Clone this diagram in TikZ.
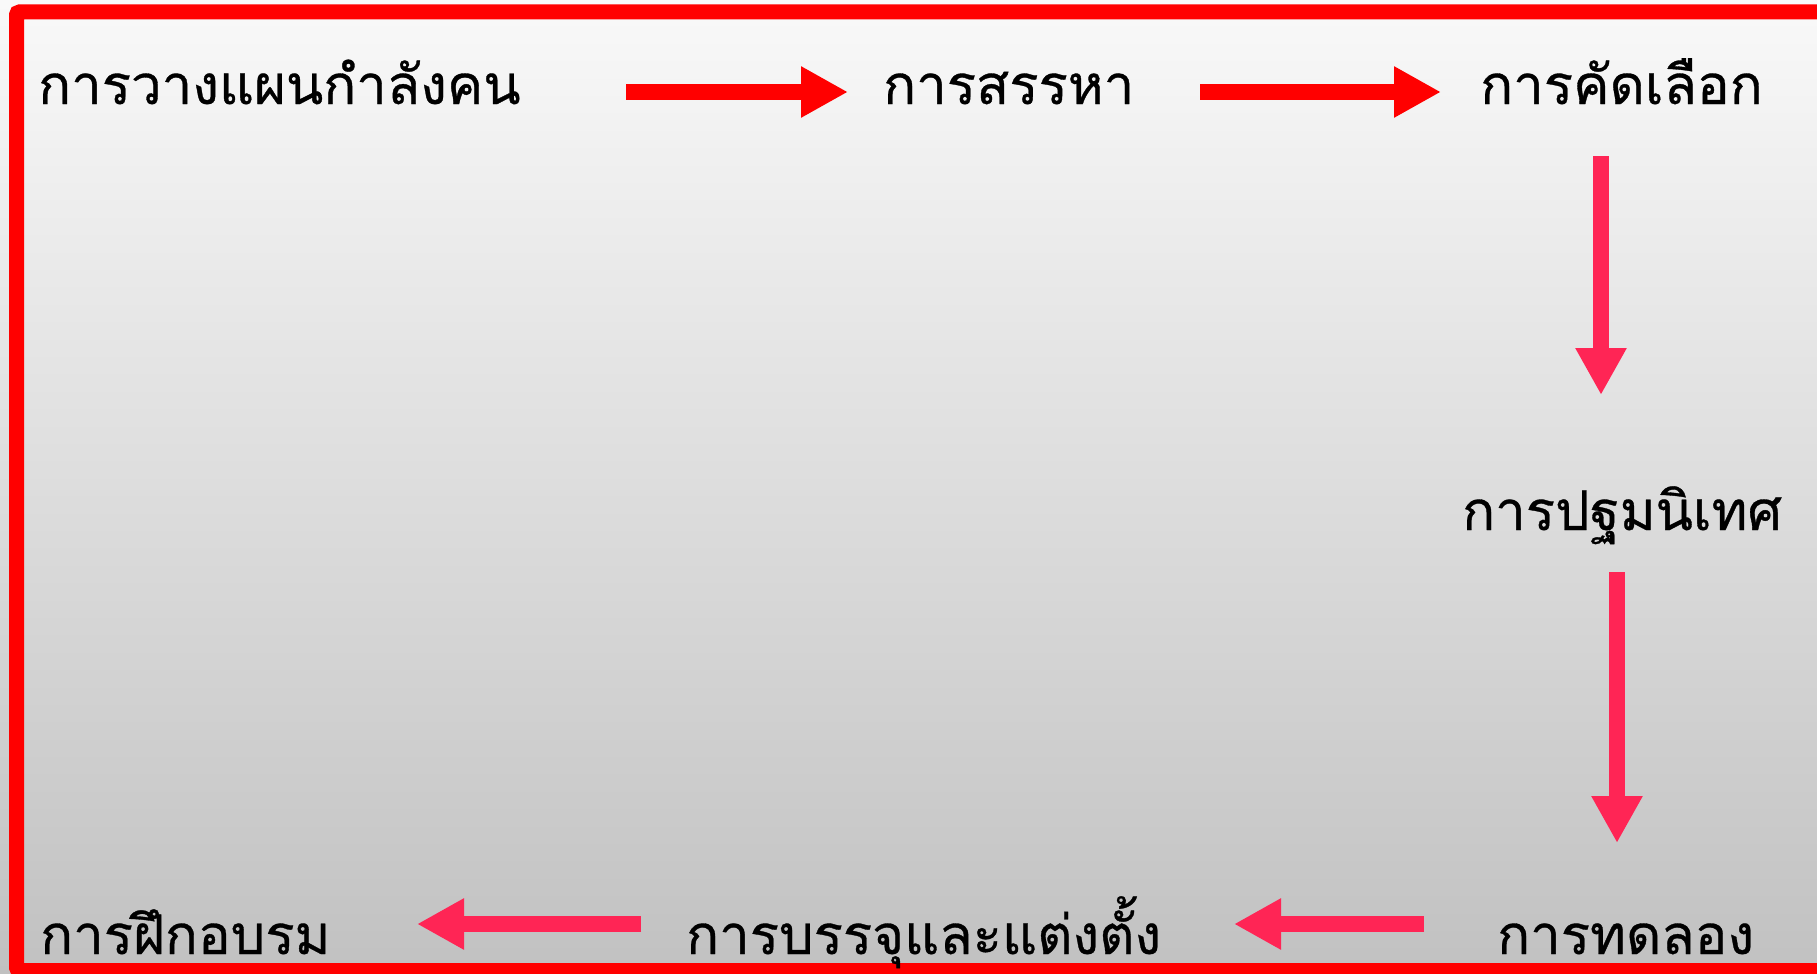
\documentclass[tikz,border=0pt]{standalone}
\usepackage{fontspec}
\newfontfamily\thaifont[Script=Thai,FakeBold=0.6]{Loma}
\usetikzlibrary{arrows.meta}
\definecolor{framered}{RGB}{255,0,0}
\definecolor{toparrow}{RGB}{255,0,0}
\definecolor{pinkarrow}{RGB}{255,37,85}
\tikzset{
  lbl/.style={inner sep=0pt, anchor=base west, font=\thaifont\fontsize{54.5}{60}\selectfont, text=black},
  blockarrow/.style={line width=16pt, -{Triangle[width=48pt,length=47pt]}},
  redarrow/.style={blockarrow, draw=toparrow},
  pinkblock/.style={blockarrow, draw=pinkarrow},
}
\begin{document}
\begin{tikzpicture}[x=1pt,y=-1pt]
\useasboundingbox (0,0) rectangle (1817,974);
\shade[top color={rgb,255:red,249;green,249;blue,249}, middle color={rgb,255:red,230;green,230;blue,230}, bottom color={rgb,255:red,193;green,193;blue,193}] (0,0) rectangle (1817,974);
\begin{scope}
\clip (0,0) rectangle (1817,974);
\draw[framered, line width=15pt, rounded corners=3pt] (16.5,12) rectangle (1840,970.5);
\end{scope}

\node[lbl] (plan) at (38,104) {การวางแผนกำลังคน};
\node[lbl] (recruit) at (883,104) {การสรรหา};
\node[lbl] (select) at (1480,104) {การคัดเลือก};
\node[lbl] (orient) at (1462,530) {การปฐมนิเทศ};
\node[lbl] (trial) at (1497,954) {การทดลอง};
\node[lbl] (appoint) at (686,954) {การบรรจุและแต่งตั้ง};
\node[lbl] (train) at (40,954) {การฝึกอบรม};

\coordinate (a1s) at (626,92);
\coordinate (a1e) at (848,92);
\coordinate (a2s) at (1200,92);
\coordinate (a2e) at (1441,92);
\coordinate (a3s) at (1601,156);
\coordinate (a3e) at (1601,395);
\coordinate (a4s) at (1617,572);
\coordinate (a4e) at (1617,843);
\coordinate (a5s) at (1424,924);
\coordinate (a5e) at (1234,924);
\coordinate (a6s) at (641,924);
\coordinate (a6e) at (417,924);

\draw[redarrow] (a1s) -- (a1e);
\draw[redarrow] (a2s) -- (a2e);
\draw[pinkblock] (a3s) -- (a3e);
\draw[pinkblock] (a4s) -- (a4e);
\draw[pinkblock] (a5s) -- (a5e);
\draw[pinkblock] (a6s) -- (a6e);
\end{tikzpicture}
\end{document}
